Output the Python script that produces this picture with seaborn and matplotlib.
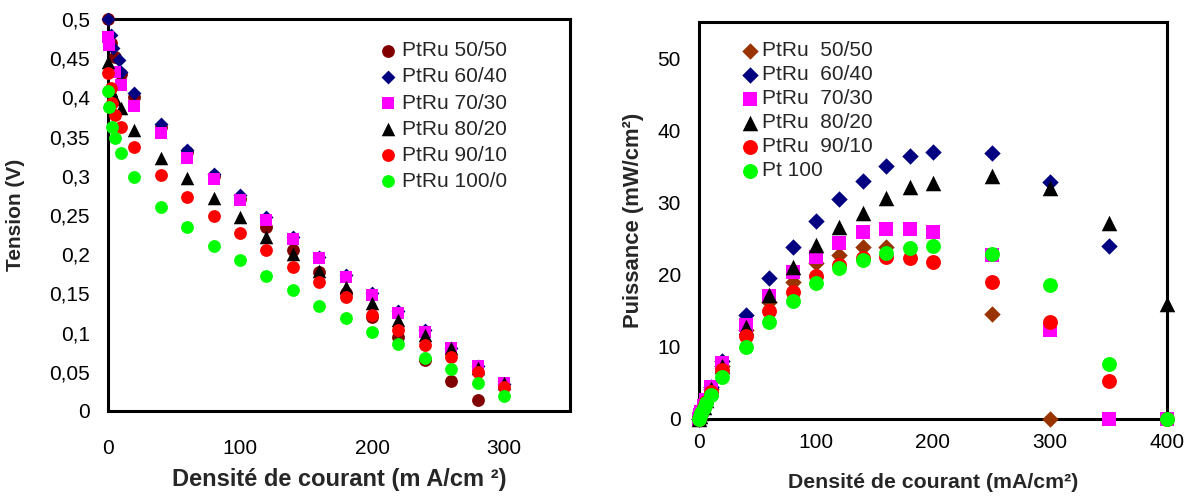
import matplotlib
matplotlib.use('Agg')
import matplotlib.pyplot as plt
import seaborn as sns
from matplotlib.ticker import FuncFormatter

# --- left panel: tension (V) vs current density (mA/cm2)
x_l_5050 = [0, 2, 5, 10, 20, 40, 60, 80, 100, 120, 140, 160, 180, 200, 220, 240, 260, 280]
v_l_5050 = [0.50, 0.47, 0.452, 0.43, 0.40, 0.362, 0.33, 0.30, 0.27, 0.235, 0.205, 0.177, 0.151,
            0.12, 0.094, 0.065, 0.038, 0.014]
x_l_6040 = [0, 2, 4, 8, 10, 20, 40, 60, 80, 100, 120, 140, 160, 180, 200, 220, 240, 260, 280, 300]
v_l_6040 = [0.50, 0.48, 0.463, 0.448, 0.432, 0.405, 0.366, 0.333, 0.302, 0.275, 0.248, 0.222,
            0.197, 0.173, 0.150, 0.127, 0.103, 0.080, 0.058, 0.035]
x_l_7030 = [0, 1, 5, 10, 20, 40, 60, 80, 100, 120, 140, 160, 180, 200, 220, 240, 260, 280, 300]
v_l_7030 = [0.477, 0.467, 0.432, 0.416, 0.389, 0.355, 0.323, 0.296, 0.269, 0.244, 0.219, 0.195,
            0.171, 0.148, 0.125, 0.101, 0.080, 0.057, 0.036]
x_l_8020 = [0, 2, 5, 10, 20, 40, 60, 80, 100, 120, 140, 160, 180, 200, 220, 240, 260, 280, 300]
v_l_8020 = [0.445, 0.41, 0.398, 0.386, 0.358, 0.323, 0.297, 0.272, 0.247, 0.222, 0.200, 0.179,
            0.158, 0.138, 0.116, 0.097, 0.080, 0.055, 0.036]
x_l_9010 = [0, 2, 3, 5, 10, 20, 40, 60, 80, 100, 120, 140, 160, 180, 200, 220, 240, 260, 280, 300]
v_l_9010 = [0.431, 0.412, 0.393, 0.378, 0.362, 0.337, 0.301, 0.273, 0.249, 0.227, 0.205, 0.184,
            0.165, 0.145, 0.122, 0.103, 0.084, 0.069, 0.050, 0.031]
x_l_1000 = [0, 1, 3, 5, 10, 20, 40, 60, 80, 100, 120, 140, 160, 180, 200, 220, 240, 260, 280, 300]
v_l_1000 = [0.408, 0.388, 0.362, 0.348, 0.329, 0.299, 0.260, 0.235, 0.211, 0.192, 0.172, 0.154,
            0.134, 0.118, 0.101, 0.085, 0.068, 0.053, 0.036, 0.019]

# --- right panel: power (mW/cm2) vs current density
x_r = [0, 1, 2, 4, 6, 10, 20, 40, 60, 80, 100, 120, 140, 160, 180, 200, 250, 300, 350, 400]
x_r_5050 = [0, 1, 2, 4, 6, 10, 20, 40, 60, 80, 100, 120, 140, 160, 250, 300]
p_5050 = [0, 0.45, 0.9, 1.7, 2.5, 4.2, 7.3, 12.3, 16.2, 19.0, 21.6, 22.7, 23.8, 23.8, 14.5, 0]
p_6040 = [0, 0.5, 1.0, 1.9, 2.8, 4.5, 8.1, 14.4, 19.5, 23.8, 27.4, 30.5, 33.0, 35.0, 36.4, 37.0,
          36.8, 32.8, 24.0]
p_7030 = [0, 0.5, 0.95, 1.8, 2.7, 4.4, 7.7, 13.0, 17.1, 20.4, 22.5, 24.4, 25.9, 26.3, 26.3, 25.9,
          22.7, 12.3, 0, 0]
p_8020 = [0, 0.45, 0.9, 1.7, 2.6, 4.1, 7.4, 12.7, 17.2, 21.1, 24.1, 26.6, 28.5, 30.6, 32.1, 32.7,
          33.6, 32.0, 27.2, 15.9]
p_9010 = [0, 0.42, 0.85, 1.6, 2.4, 3.8, 6.8, 11.5, 15.0, 17.6, 19.8, 21.3, 22.3, 22.5, 22.3, 21.7,
          19.0, 13.5, 5.2, 0]
p_pt100 = [0, 0.4, 0.8, 1.5, 2.2, 3.3, 5.8, 10.0, 13.5, 16.3, 18.8, 20.9, 22.0, 23.0, 23.7, 24.0,
           22.9, 18.6, 7.6, 0]

left_series = [
    ('PtRu 50/50', x_l_5050, v_l_5050, '#800000', 'o'),
    ('PtRu 60/40', x_l_6040, v_l_6040, '#000080', 'D'),
    ('PtRu 70/30', x_l_7030, v_l_7030, '#FF00FF', 's'),
    ('PtRu 80/20', x_l_8020, v_l_8020, '#000000', '^'),
    ('PtRu 90/10', x_l_9010, v_l_9010, '#FF0000', 'o'),
    ('PtRu 100/0', x_l_1000, v_l_1000, '#00FF00', 'o'),
]
right_series = [
    ('PtRu  50/50', x_r_5050, p_5050, '#993300', 'D'),
    ('PtRu  60/40', x_r[:len(p_6040)], p_6040, '#000080', 'D'),
    ('PtRu  70/30', x_r, p_7030, '#FF00FF', 's'),
    ('PtRu  80/20', x_r, p_8020, '#000000', '^'),
    ('PtRu  90/10', x_r, p_9010, '#FF0000', 'o'),
    ('Pt 100', x_r, p_pt100, '#00FF00', 'o'),
]

sns.set_style('white')
plt.rcParams['font.family'] = ['Liberation Sans', 'DejaVu Sans']

# marker areas (pt^2) per shape
sizes_l = {'o': 85, 'D': 50, 's': 85, '^': 95}
sizes_r = {'o': 115, 'D': 70, 's': 115, '^': 125}

fig = plt.figure(figsize=(11.95, 4.97), dpi=100)
ax1 = fig.add_axes([108 / 1195, 1 - 411 / 497, 462 / 1195, 392 / 497])
ax2 = fig.add_axes([699 / 1195, 1 - 419 / 497, 468 / 1195, 397 / 497])

for name, xs, ys, col, mk in left_series:
    sns.scatterplot(x=xs, y=ys, ax=ax1, color=col, marker=mk, s=sizes_l[mk],
                    linewidth=0, label=name, clip_on=False, zorder=3)
for name, xs, ys, col, mk in right_series:
    sns.scatterplot(x=xs, y=ys, ax=ax2, color=col, marker=mk, s=sizes_r[mk],
                    linewidth=0, label=name, clip_on=False, zorder=3)

ax1.set_xlim(0, 350)
ax1.set_ylim(0, 0.5)
ax1.set_xticks([0, 100, 200, 300])
ax1.set_yticks([0, 0.05, 0.1, 0.15, 0.2, 0.25, 0.3, 0.35, 0.4, 0.45, 0.5])
ax1.yaxis.set_major_formatter(FuncFormatter(lambda v, p: f'{v:g}'.replace('.', ',')))
ax1.set_xlabel('Densité de courant (m A/cm ²)', fontsize=17, fontweight='bold')
ax1.set_ylabel('Tension (V)', fontsize=15, fontweight='bold')
ax1.yaxis.set_label_coords(-0.180, 0.5)
ax1.xaxis.set_label_coords(0.5, -0.145)

ax2.set_xlim(0, 400)
ax2.set_ylim(0, 55)
ax2.set_xticks([0, 100, 200, 300, 400])
ax2.set_yticks([0, 10, 20, 30, 40, 50])
ax2.set_xlabel('Densité de courant (mA/cm²)', fontsize=15.3, fontweight='bold')
ax2.set_ylabel('Puissance (mW/cm²)', fontsize=15.8, fontweight='bold')
ax2.yaxis.set_label_coords(-0.118, 0.5)
ax2.xaxis.set_label_coords(0.5, -0.135)

for ax in (ax1, ax2):
    for sp in ax.spines.values():
        sp.set_visible(True)
        sp.set_linewidth(2.2)
        sp.set_color('black')
    ax.tick_params(direction='in', length=6, width=2, labelsize=15, colors='black')
    ax.tick_params(axis='y', pad=13)
    ax.grid(False)
ax1.tick_params(axis='x', pad=20)
ax2.tick_params(axis='x', pad=10)

ax1.legend(loc='upper left', bbox_to_anchor=(367 / 1195, 1 - 31 / 497),
           bbox_transform=fig.transFigure, frameon=False, fontsize=15,
           handletextpad=0.2, labelspacing=0.34, handlelength=1.0, borderpad=0)
ax2.legend(loc='upper left', bbox_to_anchor=(729 / 1195, 1 - 31 / 497),
           bbox_transform=fig.transFigure, frameon=False, fontsize=15,
           handletextpad=0.1, labelspacing=0.24, handlelength=1.0, borderpad=0)

fig.savefig('out.png', dpi=100)
